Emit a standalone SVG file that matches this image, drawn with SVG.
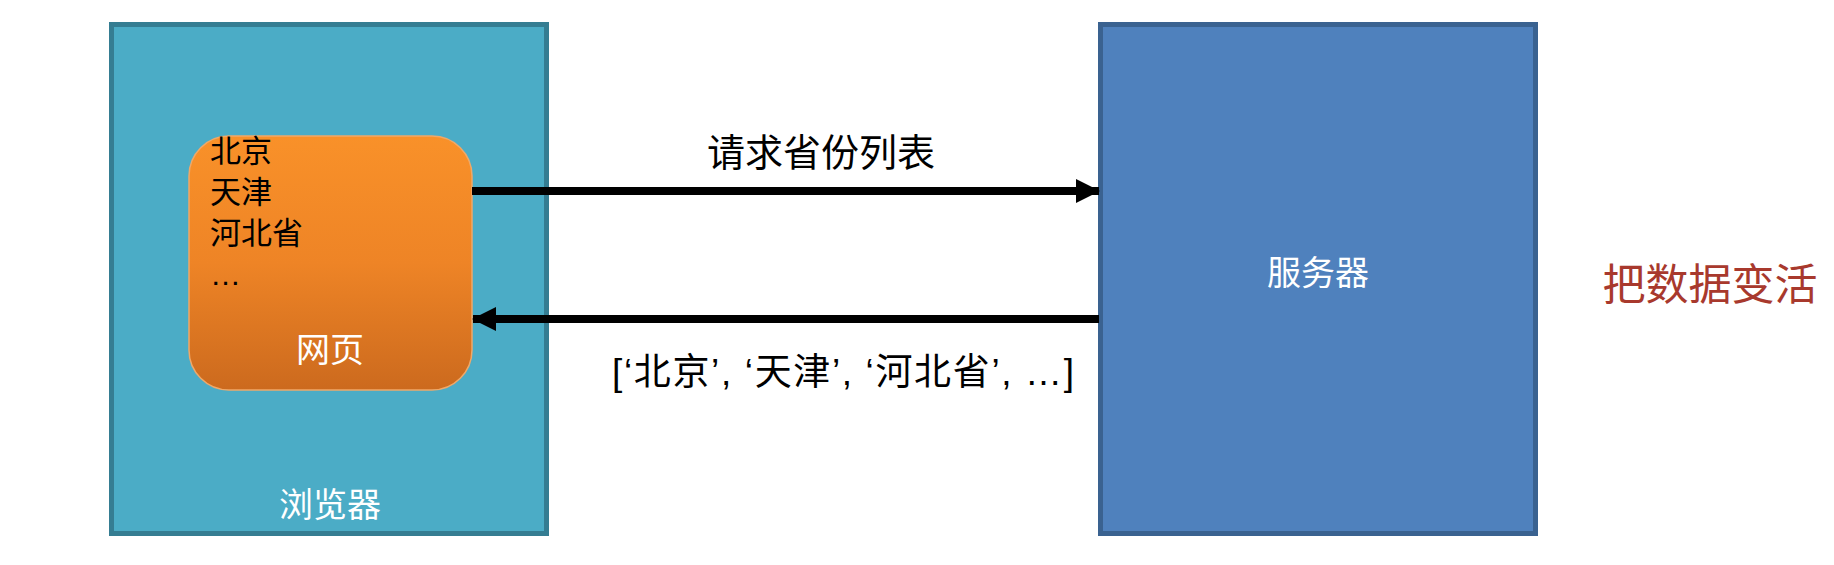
<svg xmlns="http://www.w3.org/2000/svg" width="1834" height="565" viewBox="0 0 1834 565">
<defs>
<style>
.t{font-family:"Liberation Sans","Noto Sans CJK SC",sans-serif;}
.w{fill:#ffffff;}
.k{fill:#000000;}
.conn{stroke:#000;stroke-width:8;fill:none;}
</style>
<linearGradient id="og" x1="0" y1="0" x2="0" y2="1">
<stop offset="0" stop-color="#f99129"/>
<stop offset="0.5" stop-color="#ee8426"/>
<stop offset="1" stop-color="#cc6a1e"/>
</linearGradient>
<marker id="ah" viewBox="0 0 24 24" refX="23" refY="12" markerWidth="24" markerHeight="24" markerUnits="userSpaceOnUse" orient="auto">
<path d="M0,0 L24,12 L0,24 Z" fill="#000"/>
</marker>
</defs>
<rect width="1834" height="565" fill="#ffffff"/>
<g id="browser">
<rect x="111.5" y="24.5" width="435" height="509" fill="#4bacc6" stroke="#357d92" stroke-width="5"/>
<text class="t w" x="330" y="517" font-size="34" text-anchor="middle">浏览器</text>
</g>
<g id="webpage">
<rect x="189" y="136" width="283" height="254" rx="40" ry="40" fill="url(#og)" stroke="#f0a868" stroke-width="1.5"/>
<text class="t k" x="210" y="162" font-size="31">北京</text>
<text class="t k" x="210" y="203" font-size="31">天津</text>
<text class="t k" x="210" y="244" font-size="31">河北省</text>
<text class="t k" x="210" y="285" font-size="31">…</text>
<text class="t w" x="330" y="362" font-size="34" text-anchor="middle">网页</text>
</g>
<g id="server">
<rect x="1100.5" y="24.5" width="435" height="509" fill="#4f81bd" stroke="#3a6290" stroke-width="5"/>
<text class="t w" x="1318" y="285" font-size="34" text-anchor="middle">服务器</text>
</g>
<g id="note">
<text class="t" x="1710" y="300" font-size="43" fill="#a8392d" text-anchor="middle">把数据变活</text>
</g>
<g id="connectors">
<line class="conn" x1="472" y1="191" x2="1099" y2="191" marker-end="url(#ah)"/>
<line class="conn" x1="1099" y1="319" x2="473" y2="319" marker-end="url(#ah)"/>
<text class="t k" x="821" y="166" font-size="38" text-anchor="middle">请求省份列表</text>
<text class="t k" x="843" y="385" font-size="37" text-anchor="middle" textLength="462" lengthAdjust="spacing">[‘北京’, ‘天津’, ‘河北省’, …]</text>
</g>
</svg>
